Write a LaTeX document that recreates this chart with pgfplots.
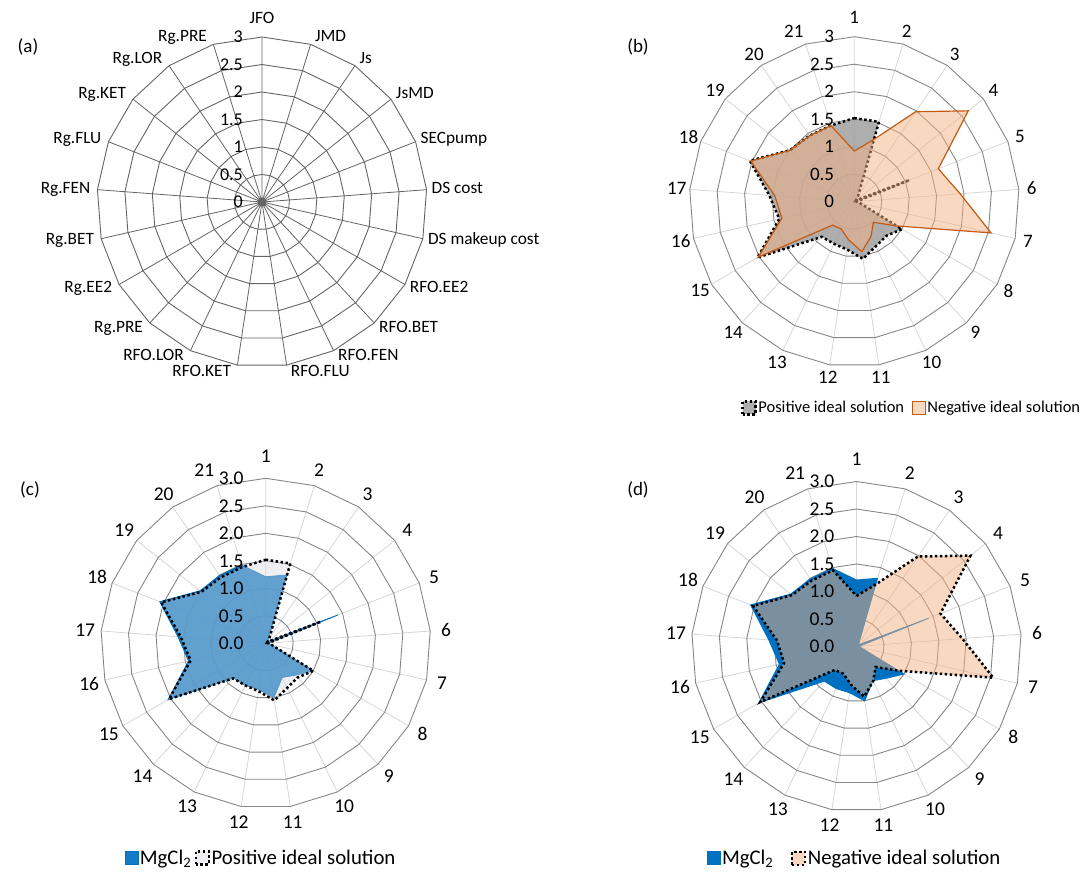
\documentclass[border=0pt]{standalone}
\usepackage{fontspec}
\setmainfont{Carlito}
\usepackage{pgfplots}
\pgfplotsset{compat=1.18}
\usepackage{pgfplotstable}

\definecolor{ringA}{RGB}{100,100,100}
\definecolor{ringc}{RGB}{134,134,134}
\definecolor{spokec}{RGB}{214,214,214}
\definecolor{Pgray}{RGB}{160,160,160}
\definecolor{Plight}{RGB}{215,215,222}
\definecolor{Npeach}{RGB}{244,177,131}
\definecolor{Nline}{RGB}{197,90,17}
\definecolor{Mblue}{RGB}{0,112,192}

\newcommand\fs[1]{\fontsize{#1}{#1}\selectfont}

% values on the 21 axes (row 22 repeats row 1 to close the polygons)
\pgfplotstableread{
i  P     N     M
1  1.52  0.92  1.21
2  1.52  1.18  1.30
3  0.12  1.98  0.08
4  0.04  2.65  0.05
5  1.08  1.64  1.41
6  0.04  1.93  0.05
7  0.10  2.55  0.08
8  1.00  0.88  1.00
9  0.85  0.51  0.79
10 0.90  0.70  0.69
11 1.05  0.92  1.00
12 0.88  0.70  0.85
13 0.85  0.55  0.85
14 0.87  0.58  0.86
15 2.03  2.02  2.05
16 1.40  1.35  1.44
17 1.55  1.45  1.60
18 2.04  2.02  2.07
19 1.50  1.50  1.53
20 1.45  1.45  1.49
21 1.45  1.45  1.49
22 1.52  0.92  1.21
}\radar

\pgfplotstableread{
i r
1 3
1 0
2 3
2 0
3 3
3 0
4 3
4 0
5 3
5 0
6 3
6 0
7 3
7 0
8 3
8 0
9 3
9 0
10 3
10 0
11 3
11 0
12 3
12 0
13 3
13 0
14 3
14 0
15 3
15 0
16 3
16 0
17 3
17 0
18 3
18 0
19 3
19 0
20 3
20 0
21 3
21 0
}\spokes

\pgfplotsset{
  table/rcol/.style={
    /pgfplots/table/x expr={#1*cos(90-(\thisrow{i}-1)*360/21)},
    /pgfplots/table/y expr={#1*sin(90-(\thisrow{i}-1)*360/21)}},
  radaraxis/.style={hide axis, x=55pt, y=55pt, xmin=-3.3, xmax=3.3, ymin=-3.3, ymax=3.3,
    clip=false, anchor=center, legend columns=2, legend cell align=left,
    legend style={draw=none, fill=none, anchor=center, font=\fs{20.8},
      nodes={inner sep=1.5pt}}},
  legend image code/.code={\draw[#1] (0pt,-6.5pt) rectangle (13pt,6.5pt);},
  sqdot/.style={line width=2.5pt, dash pattern=on 2.5pt off 2.5pt},
}

\newcommand\radargrid[2]{%
  \addplot[#2, line width=0.8pt, forget plot] table[rcol=\thisrow{r}] {\spokes};
  \pgfplotsinvokeforeach{0.5,1,1.5,2,2.5,3}{%
    \addplot[#1, line width=0.9pt, forget plot] table[rcol=##1] {\radar};}%
}

% word labels of panel (a): left/right aligned at the spoke ends
\newcommand\catlabelsA[5]{%
  \foreach \lab [count=\k] in {#5} {%
    \pgfmathsetmacro\ex{#3*sin((\k-1)*360/21)}%
    \pgfmathsetmacro\ey{#3*cos((\k-1)*360/21)}%
    \pgfmathsetmacro\dy{6*cos((\k-1)*360/21)}%
    \ifdim\ex pt>1pt
      \node[font=#4, anchor=west, inner sep=0pt, text height=11pt, text depth=3pt]
        at ([shift={({\ex pt+4pt},{\ey pt+\dy pt})}]#1,#2) {\lab};
    \else\ifdim\ex pt<-1pt
      \node[font=#4, anchor=east, inner sep=0pt, text height=11pt, text depth=3pt]
        at ([shift={({\ex pt-6pt},{\ey pt+\dy pt})}]#1,#2) {\lab};
    \else
      \node[font=#4, anchor=base, inner sep=0pt]
        at ([shift={(0pt,{\ey pt+13pt})}]#1,#2) {\lab};
    \fi\fi}%
}
% number labels of panels (b)-(d): centred on a circle
\newcommand\numlabels[4]{%
  \foreach \k in {1,...,21} {%
    \pgfmathsetmacro\ex{#3*sin((\k-1)*360/21)-8*(\k==21)}%
    \pgfmathsetmacro\ey{#3*cos((\k-1)*360/21)+6*(\k==1)}%
    \node[font=#4, inner sep=0pt] at ([shift={(\ex pt,\ey pt)}]#1,#2) {\k};}%
}
\newcommand\radlabels[5]{%
  \foreach \t [count=\k] in {#5} {%
    \node[font=#4, anchor=east, inner sep=0pt] at ([shift={(#3,{(\k-1)*27.5pt})}]#1,#2) {\t};}%
}

\begin{document}
\begin{tikzpicture}
\useasboundingbox (0pt,0pt) rectangle (1084pt,-873pt);

% ---------------- (a)
\begin{axis}[radaraxis, at={(262pt,-202pt)}]
\radargrid{ringA}{ringA}
\addplot[only marks, mark=*, mark size=4pt, ringA, forget plot] coordinates {(0,0)};
\end{axis}
\catlabelsA{262pt}{-202pt}{166}{\fs{17.3}}{JFO,JMD,Js,JsMD,SECpump,DS cost,DS makeup cost,RFO.EE2,RFO.BET,RFO.FEN,RFO.FLU,RFO.KET,RFO.LOR,Rg.PRE,Rg.EE2,Rg.BET,Rg.FEN,Rg.FLU,Rg.KET,Rg.LOR,Rg.PRE}
\radlabels{262pt}{-202pt}{-19pt}{\fs{18}}{0,0.5,1,1.5,2,2.5,3}

% ---------------- (b)
\begin{axis}[radaraxis, at={(854.3pt,-201.7pt)},
  legend style={at={(axis cs:1.04,-3.75)}, font=\fs{16.5},
    /tikz/every even column/.append style={column sep=6pt}}]
\radargrid{ringc}{spokec}
\addplot[draw=black, sqdot, fill=Pgray, fill opacity=0.85] table[rcol=\thisrow{P}] {\radar};
\addlegendentry{Positive ideal solution}
\addplot[draw=Nline, line width=1.2pt, fill=Npeach, fill opacity=0.5] table[rcol=\thisrow{N}] {\radar};
\addlegendentry{Negative ideal solution}
\end{axis}
\numlabels{854.3pt}{-201.7pt}{178}{\fs{19}}
\radlabels{854.3pt}{-201.7pt}{-20pt}{\fs{19}}{0,0.5,1,1.5,2,2.5,3}

% ---------------- (c)
\begin{axis}[radaraxis, at={(265.7pt,-643.3pt)},
  legend style={at={(axis cs:-0.09,-3.9)},
    /tikz/every even column/.append style={column sep=2pt}}]
\radargrid{ringc}{spokec}
\addplot[draw=Mblue, line width=0.8pt, fill=Mblue, fill opacity=0.92] table[rcol=\thisrow{M}] {\radar};
\addlegendentry{MgCl\textsubscript{2}}
\addplot[draw=black, sqdot, fill=Plight, fill opacity=0.4] table[rcol=\thisrow{P}] {\radar};
\addlegendentry{Positive ideal solution}
\end{axis}
\numlabels{265.7pt}{-643.3pt}{181}{\fs{19.5}}
\radlabels{265.7pt}{-643.3pt}{-22pt}{\fs{19.5}}{0.0,0.5,1.0,1.5,2.0,2.5,3.0}

% ---------------- (d)
\begin{axis}[radaraxis, at={(856.5pt,-646.5pt)},
  legend style={at={(axis cs:-0.04,-3.85)},
    /tikz/every even column/.append style={column sep=16pt}}]
\radargrid{ringc}{spokec}
\addplot[draw=Mblue, line width=0.8pt, fill=Mblue] table[rcol=\thisrow{M}] {\radar};
\addlegendentry{MgCl\textsubscript{2}}
\addplot[draw=black, sqdot, fill=Npeach, fill opacity=0.5] table[rcol=\thisrow{N}] {\radar};
\addlegendentry{Negative ideal solution}
\end{axis}
\numlabels{856.5pt}{-646.5pt}{181}{\fs{19.5}}
\radlabels{856.5pt}{-646.5pt}{-22pt}{\fs{19.5}}{0.0,0.5,1.0,1.5,2.0,2.5,3.0}

% panel letters
\node[font=\fs{19}] at (28pt,-47pt) {(a)};
\node[font=\fs{19}] at (638pt,-47pt) {(b)};
\node[font=\fs{19}] at (30pt,-490pt) {(c)};
\node[font=\fs{19}] at (638pt,-490pt) {(d)};
\end{tikzpicture}
\end{document}
